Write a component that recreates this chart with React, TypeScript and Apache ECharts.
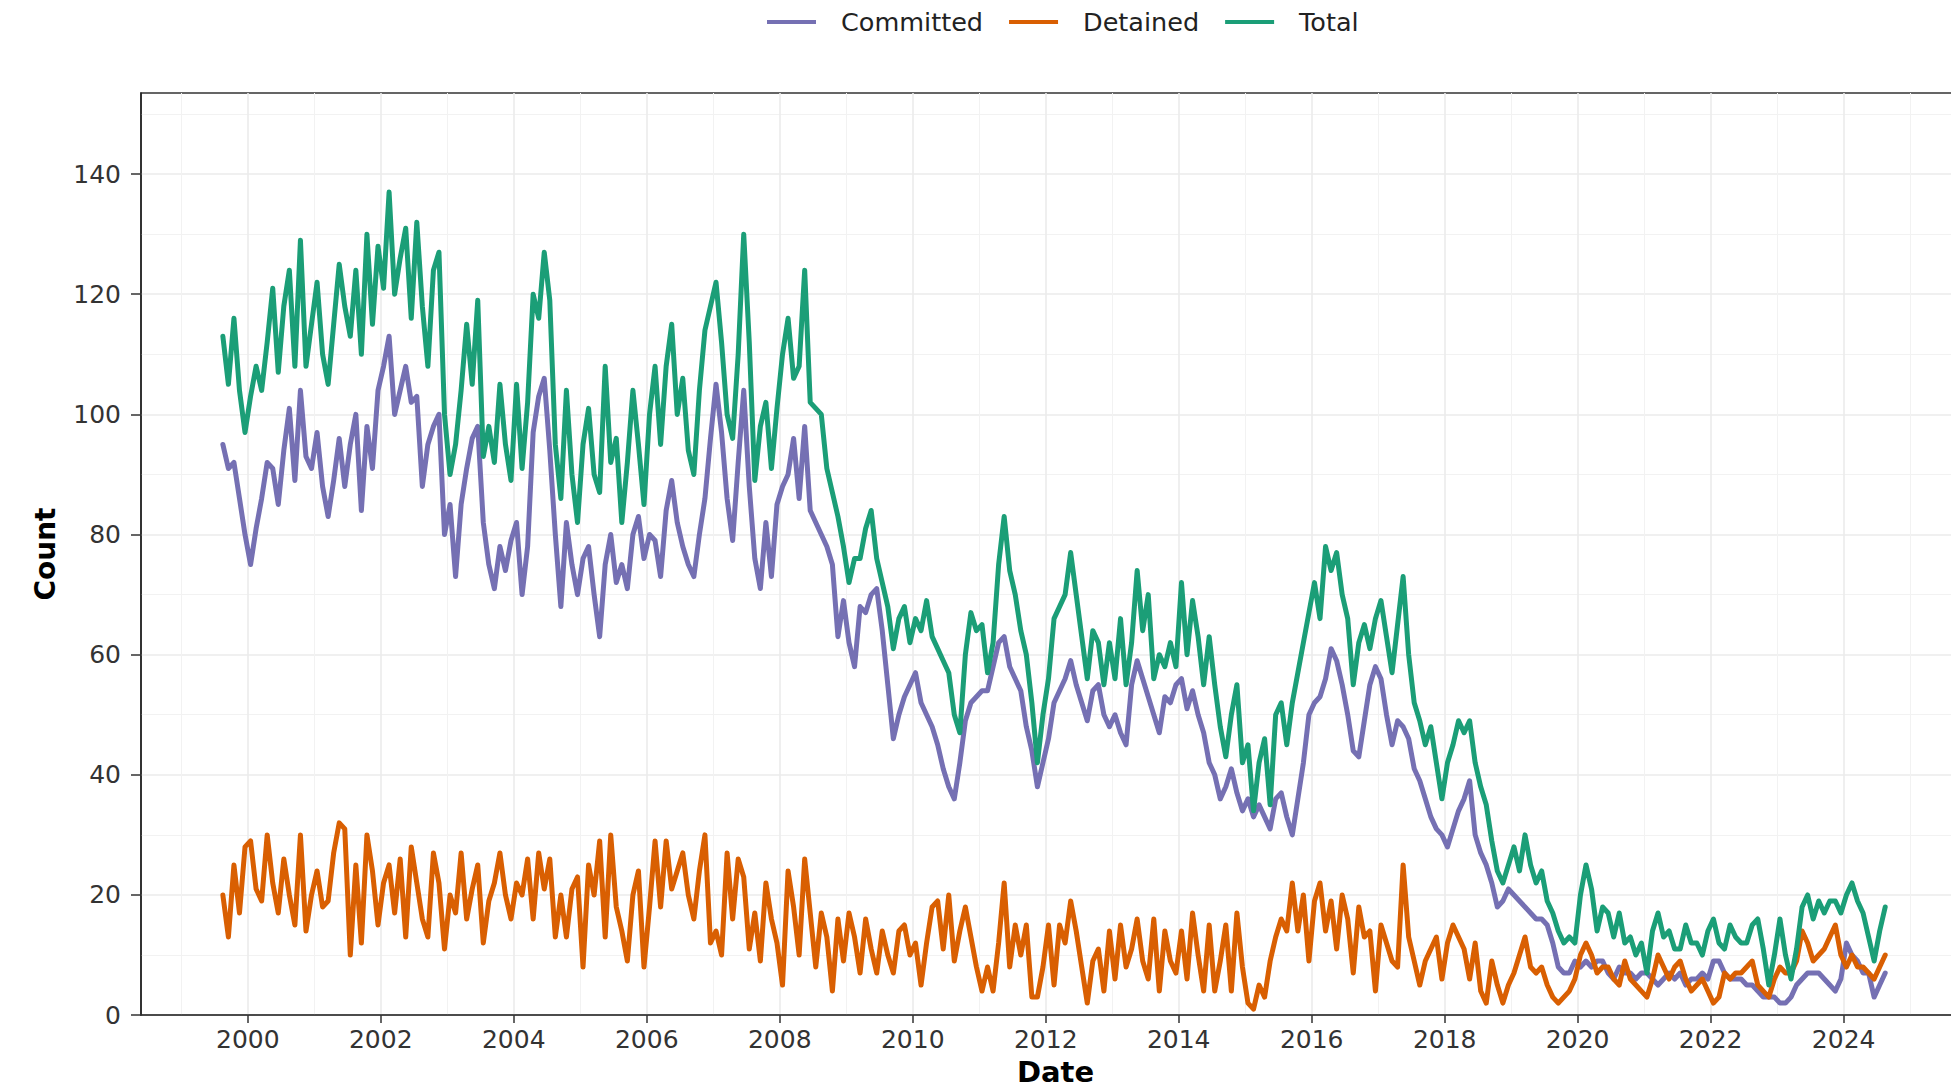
import React, { useEffect, useRef } from "react";
import * as echarts from "echarts";

// Monthly series, first month = August 1999 (decimal year 1999.625)
const START_YEAR = 1999.625;

const committed: number[] = [
  95, 91, 92, 86, 80, 75, 81, 86, 92, 91,
  85, 94, 101, 89, 104, 93, 91, 97, 88, 83,
  89, 96, 88, 95, 100, 84, 98, 91, 104, 108,
  113, 100, 104, 108, 102, 103, 88, 95, 98, 100,
  80, 85, 73, 85, 91, 96, 98, 82, 75, 71,
  78, 74, 79, 82, 70, 78, 97, 103, 106, 94,
  80, 68, 82, 75, 70, 76, 78, 70, 63, 75,
  80, 72, 75, 71, 80, 83, 76, 80, 79,
  73, 84, 89, 82, 78, 75, 73, 80, 86, 96,
  105, 97, 86, 79, 92, 104, 88, 76, 71, 82,
  73, 85, 88, 90, 96, 86, 98, 84, 82, 80,
  78, 75, 63, 69, 62, 58, 68, 67, 70, 71,
  64, 55, 46, 50, 53, 55, 57, 52, 50, 48,
  45, 41, 38, 36, 42, 49, 52, 53, 54, 54,
  58, 62, 63, 58, 56, 54, 48, 44, 38, 42,
  46, 52, 54, 56, 59, 55, 52, 49, 54, 55,
  50, 48, 50, 47, 45, 55, 59, 56, 53, 50,
  47, 53, 52, 55, 56, 51, 54, 50, 47, 42,
  40, 36, 38, 41, 37, 34, 36, 33, 35, 33,
  31, 36, 37, 33, 30, 36, 42, 50, 52, 53,
  56, 61, 59, 55, 50, 44, 43, 49, 55, 58,
  56, 50, 45, 49, 48, 46, 41, 39, 36, 33,
  31, 30, 28, 31, 34, 36, 39, 30, 27, 25,
  22, 18, 19, 21, 20, 19, 18, 17, 16,
  16, 15, 12, 8, 7, 7, 9, 8, 9, 8,
  9, 9, 7, 6, 8, 7, 7, 6, 7, 7,
  6, 5, 6, 7, 6, 7, 5, 6, 6, 7,
  6, 9, 9, 7, 6, 6, 6, 5, 5, 4,
  3, 3, 3, 2, 2, 3, 5, 6, 7, 7,
  7, 6, 5, 4, 6, 12, 10, 9, 7, 7,
  3, 5, 7,
];

const detained: number[] = [
  20, 13, 25, 17, 28, 29, 21, 19, 30, 22,
  17, 26, 20, 15, 30, 14, 20, 24, 18, 19,
  27, 32, 31, 10, 25, 12, 30, 24, 15, 22,
  25, 17, 26, 13, 28, 22, 16, 13, 27, 22,
  11, 20, 17, 27, 16, 21, 25, 12, 19, 22,
  27, 20, 16, 22, 20, 26, 16, 27, 21, 26,
  13, 20, 13, 21, 23, 8, 25, 20, 29, 13,
  30, 18, 14, 9, 20, 24, 8, 18, 29,
  18, 29, 21, 24, 27, 20, 16, 24, 30, 12,
  14, 10, 27, 16, 26, 23, 11, 17, 9, 22,
  16, 12, 5, 24, 18, 10, 26, 17, 8, 17,
  13, 4, 16, 9, 17, 13, 7, 16, 11, 7,
  14, 10, 7, 14, 15, 10, 12, 5, 12, 18,
  19, 11, 20, 9, 14, 18, 13, 8, 4, 8,
  4, 12, 22, 8, 15, 10, 15, 3, 3, 8,
  15, 5, 15, 12, 19, 14, 8, 2, 9, 11,
  4, 14, 6, 15, 8, 11, 16, 9, 6, 16,
  4, 14, 9, 7, 14, 6, 17, 10, 4, 15,
  4, 9, 15, 4, 17, 8, 2, 1, 5, 3,
  9, 13, 16, 14, 22, 14, 20, 9, 19, 22,
  14, 19, 11, 20, 16, 7, 18, 13, 14, 4,
  15, 12, 9, 8, 25, 13, 9, 5, 9, 11,
  13, 6, 12, 15, 13, 11, 6, 12, 4, 2,
  9, 5, 2, 5, 7, 10, 13, 8, 7,
  8, 5, 3, 2, 3, 4, 6, 10, 12, 10,
  7, 8, 8, 6, 5, 9, 6, 5, 4, 3,
  6, 10, 8, 6, 8, 9, 6, 4, 5, 6,
  4, 2, 3, 7, 6, 7, 7, 8, 9, 5,
  4, 3, 6, 8, 7, 7, 9, 14, 12, 9,
  10, 11, 13, 15, 10, 8, 10, 8, 8, 7,
  6, 8, 10,
];

const total: number[] = [
  113, 105, 116, 104, 97, 103, 108, 104, 112, 121,
  107, 118, 124, 108, 129, 108, 115, 122, 110, 105,
  115, 125, 118, 113, 124, 110, 130, 115, 128, 121,
  137, 120, 126, 131, 116, 132, 118, 108, 124, 127,
  100, 90, 95, 104, 115, 105, 119, 93, 98, 92,
  105, 95, 89, 105, 91, 102, 120, 116, 127, 119,
  95, 86, 104, 90, 82, 95, 101, 90, 87, 108,
  92, 96, 82, 92, 104, 95, 85, 100, 108,
  95, 108, 115, 100, 106, 94, 90, 104, 114, 118,
  122, 112, 100, 96, 110, 130, 112, 89, 98, 102,
  91, 101, 110, 116, 106, 108, 124, 102, 101, 100,
  91, 87, 83, 78, 72, 76, 76, 81, 84, 76,
  72, 68, 61, 66, 68, 62, 66, 64, 69, 63,
  61, 59, 57, 50, 47, 60, 67, 64, 65, 57,
  62, 75, 83, 74, 70, 64, 60, 52, 42, 50,
  56, 66, 68, 70, 77, 70, 63, 56, 64, 62,
  55, 62, 56, 66, 55, 62, 74, 64, 70, 56,
  60, 58, 62, 58, 72, 60, 69, 63, 55, 63,
  55, 48, 43, 50, 55, 42, 45, 34, 42, 46,
  35, 50, 52, 45, 52, 57, 62, 67, 72, 66,
  78, 74, 77, 70, 66, 55, 62, 65, 61, 66,
  69, 63, 57, 65, 73, 60, 52, 49, 45, 48,
  42, 36, 42, 45, 49, 47, 49, 42, 38, 35,
  29, 24, 22, 25, 28, 24, 30, 25, 22,
  24, 19, 17, 14, 12, 13, 12, 20, 25, 21,
  14, 18, 17, 13, 17, 12, 13, 10, 12, 7,
  14, 17, 13, 14, 11, 11, 15, 12, 12, 10,
  14, 16, 12, 11, 15, 13, 12, 12, 15, 16,
  11, 5, 10, 16, 10, 6, 11, 18, 20, 16,
  19, 17, 19, 19, 17, 20, 22, 19, 17, 13,
  9, 14, 18,
];

const seriesNames = ["Committed", "Detained", "Total"];
const seriesColors = ["#7570B3", "#D95F02", "#1B9E77"];

const majorYears = [2000, 2002, 2004, 2006, 2008, 2010, 2012, 2014, 2016, 2018, 2020, 2022, 2024];
const minorYears = [1999, 2001, 2003, 2005, 2007, 2009, 2011, 2013, 2015, 2017, 2019, 2021, 2023, 2025];
const majorCounts = [0, 20, 40, 60, 80, 100, 120, 140];
const minorCounts = [10, 30, 50, 70, 90, 110, 130, 150];

const X_MIN = 1998.394;
const X_MAX = 2025.9;
const Y_MIN = 0;
const Y_MAX = 153.5;

const FONT = "DejaVu Sans";

function toPoints(values: number[]): [number, number][] {
  return values.map((v, i) => [START_YEAR + i / 12, v]);
}

export default function App() {
  const ref = useRef<HTMLDivElement>(null);

  useEffect(() => {
    if (!ref.current) return;
    const chart = echarts.init(ref.current, null, { renderer: "svg" });
    const valuesBySeries = [committed, detained, total];

    const option: any = {
      animation: false,
      backgroundColor: "#ffffff",
      legend: {
        data: seriesNames,
        left: 767,
        top: 9,
        padding: 0,
        icon: "rect",
        itemWidth: 49,
        itemHeight: 4,
        itemGap: 26,
        textStyle: {
          fontFamily: FONT,
          fontSize: 25.5,
          color: "#222222",
          padding: [0, 0, 0, 20],
        },
      },
      grid: {
        left: 141,
        top: 93,
        width: 1829,
        height: 923.5,
        show: true,
        borderColor: "#333333",
        borderWidth: 1.5,
        backgroundColor: "transparent",
      },
      xAxis: [
        {
          type: "value",
          min: X_MIN,
          max: X_MAX,
          name: "Date",
          nameLocation: "middle",
          nameGap: 41,
          nameTextStyle: {
            fontFamily: FONT,
            fontSize: 29,
            fontWeight: "bold",
            color: "#000000",
          },
          axisLine: { show: true, onZero: false, lineStyle: { color: "#222222", width: 1.5 } },
          axisTick: {
            show: true,
            length: 8,
            customValues: majorYears,
            lineStyle: { color: "#333333", width: 1.5 },
          },
          axisLabel: {
            customValues: majorYears,
            formatter: (v: number) => String(v),
            fontFamily: FONT,
            fontSize: 25,
            color: "#333333",
            margin: 12,
          },
          splitLine: { show: true, lineStyle: { color: "#EBEBEB", width: 1.6 } },
        },
        {
          type: "value",
          min: X_MIN,
          max: X_MAX,
          position: "top",
          axisLine: { show: false },
          axisTick: { show: false, customValues: minorYears },
          axisLabel: { show: false, customValues: minorYears },
          splitLine: { show: true, lineStyle: { color: "#F2F2F2", width: 1 } },
        },
      ],
      yAxis: [
        {
          type: "value",
          min: Y_MIN,
          max: Y_MAX,
          name: "Count",
          nameLocation: "middle",
          nameGap: 82,
          nameTextStyle: {
            fontFamily: FONT,
            fontSize: 28,
            fontWeight: "bold",
            color: "#000000",
          },
          axisLine: { show: true, onZero: false, lineStyle: { color: "#222222", width: 1.5 } },
          axisTick: {
            show: true,
            length: 10,
            customValues: majorCounts,
            lineStyle: { color: "#333333", width: 1.5 },
          },
          axisLabel: {
            customValues: majorCounts,
            formatter: (v: number) => String(v),
            fontFamily: FONT,
            fontSize: 25,
            color: "#333333",
            margin: 20,
          },
          splitLine: { show: true, lineStyle: { color: "#EBEBEB", width: 1.6 } },
        },
        {
          type: "value",
          min: Y_MIN,
          max: Y_MAX,
          position: "right",
          axisLine: { show: false },
          axisTick: { show: false, customValues: minorCounts },
          axisLabel: { show: false, customValues: minorCounts },
          splitLine: { show: true, lineStyle: { color: "#F2F2F2", width: 1 } },
        },
      ],
      series: seriesNames.map((name, k) => ({
        name,
        type: "line",
        xAxisIndex: 0,
        yAxisIndex: 0,
        data: toPoints(valuesBySeries[k]),
        showSymbol: false,
        symbol: "none",
        color: seriesColors[k],
        lineStyle: { color: seriesColors[k], width: 5, join: "round", cap: "round" },
        emphasis: { disabled: true },
        z: 2 + k,
      })),
    };

    chart.setOption(option);
    return () => {
      chart.dispose();
    };
  }, []);

  return (
    <div
      style={{
        position: "absolute",
        left: 0,
        top: 0,
        width: 1951,
        height: 1091,
        overflow: "hidden",
        background: "#fff",
      }}
    >
      <div ref={ref} style={{ width: 1990, height: 1091 }} />
    </div>
  );
}
